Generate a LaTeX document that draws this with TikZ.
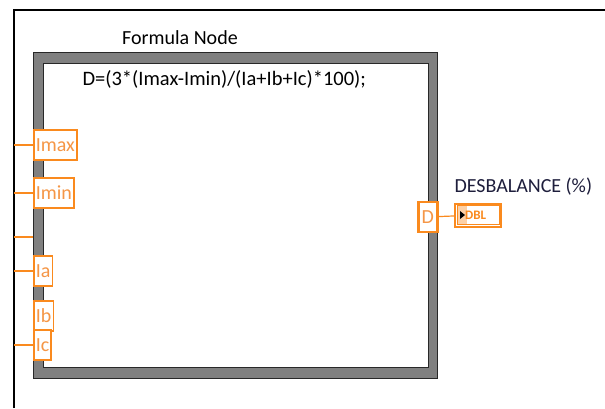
\documentclass[tikz,border=0pt]{standalone}
\usepackage{fontspec}
\setmainfont{Carlito}
\definecolor{lvorange}{RGB}{250,138,30}
\definecolor{lvtext}{RGB}{245,150,70}
\definecolor{lvgray}{RGB}{128,128,128}
\definecolor{lvdark}{RGB}{40,40,40}
\definecolor{lvnavy}{RGB}{30,30,60}
\tikzset{
  term/.style={draw=lvorange, line width=1.5pt, fill=white, text=lvtext, anchor=west,
    minimum height=30pt, inner sep=2pt, font=\fontsize{20}{20}\selectfont},
  outterm/.style={term, line width=2.5pt, minimum width=19pt, inner sep=1pt},
  wire/.style={draw=lvorange, line width=1.2pt},
}
\begin{document}
\begin{tikzpicture}[x=1pt,y=-1pt]
      \useasboundingbox (0,0) rectangle (605,408);
      % Cornice esterna
      \draw[line width=2pt] (14,408) -- (14,10) -- (605,10);
      % Formula node
      \fill[lvgray, draw=lvdark, line width=1pt] (33,52) rectangle (437,378);
      \fill[white, draw=lvdark, line width=1pt] (43,63) rectangle (428,367);
      \node (titolo) at (180,38) {\fontsize{20}{20}\selectfont Formula Node};
      \node[anchor=west] (formula) at (79,79) {\fontsize{20.5}{20}\selectfont D=(3*(Imax-Imin)/(Ia+Ib+Ic)*100);};

      % Terminali di ingresso
      \node[term] (imax) at (33,145) {Imax};
      \node[term] (imin) at (33,193) {Imin};
      \node[term] (ia) at (33,271) {Ia};
      \node[term] (ib) at (33,316) {Ib};
      \node[term] (ic) at (33,345) {Ic};
      \coordinate (sx1) at (14,145);
      \coordinate (sx2) at (14,193);
      \coordinate (sx3) at (14,237);
      \coordinate (bordo) at (33,237);
      \coordinate (sx4) at (14,271);
      \coordinate (sx5) at (14,345);

      % Terminale di uscita e indicatore
      \node[outterm] (d) at (417,217) {D};
      \node[draw=lvorange, line width=2pt, fill=white, minimum width=46pt, minimum height=23pt, anchor=west] (dbl) at (454,215) {};
      \draw[lvorange, line width=0.8pt] ([shift={(3pt,3pt)}]dbl.south west) rectangle ([shift={(-3pt,-3pt)}]dbl.north east);
      \fill[lvorange!40] ([shift={(3.5pt,3.5pt)}]dbl.south west) rectangle ([shift={(13pt,-3.5pt)}]dbl.north west);
      \fill[black] ([shift={(6pt,-4pt)}]dbl.west) -- ([shift={(11pt,0pt)}]dbl.west) -- ([shift={(6pt,4pt)}]dbl.west) -- cycle;
      \node[text=lvorange, font=\bfseries\fontsize{13}{13}\selectfont, anchor=west, inner sep=0pt] (dbltxt) at ([xshift=11pt]dbl.west) {DBL};
      \node[anchor=west, text=lvnavy] (desb) at (451,187) {\fontsize{20}{20}\selectfont DESBALANCE (\%)};

      % Fili
      \draw[wire] (sx1) -- (imax);
      \draw[wire] (sx2) -- (imin);
      \draw[wire] (sx3) -- (bordo);
      \draw[wire] (sx4) -- (ia);
      \draw[wire] (sx5) -- (ic);
      \draw[wire] (d) -- (dbl);
    \end{tikzpicture}
\end{document}
